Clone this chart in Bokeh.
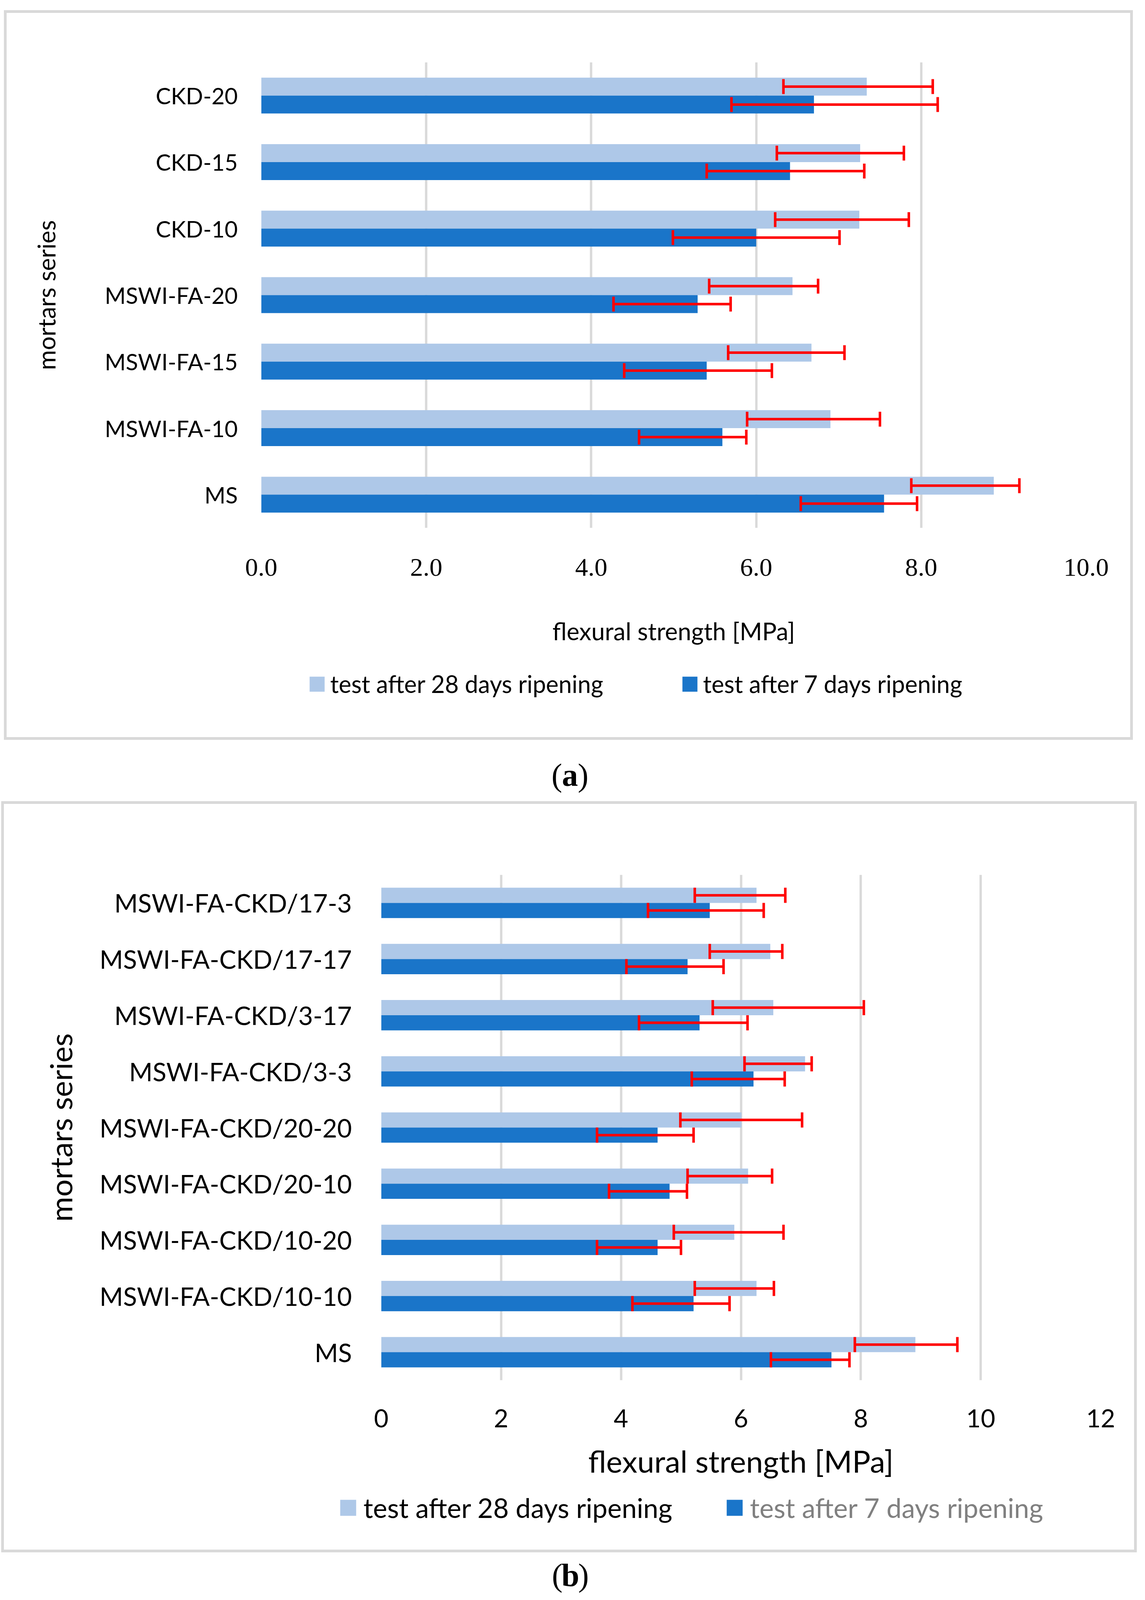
from bokeh.plotting import figure
from bokeh.models import (ColumnDataSource, Range1d, FactorRange, FixedTicker,
                          NumeralTickFormatter, Legend, LegendItem, Label)
from bokeh.layouts import column
from bokeh.transform import dodge
from bokeh.embed import file_html
from bokeh.resources import INLINE

# ---------------- data: panel (a) (bottom -> top) ----------------
cats_a = ["MS", "MSWI-FA-10", "MSWI-FA-15", "MSWI-FA-20", "CKD-10", "CKD-15", "CKD-20"]
a_28 = [8.88, 6.90, 6.67, 6.44, 7.25, 7.26, 7.34]
a_28_lo = [7.88, 5.89, 5.66, 5.43, 6.23, 6.25, 6.33]
a_28_hi = [9.19, 7.50, 7.07, 6.75, 7.85, 7.79, 8.14]
a_7 = [7.55, 5.59, 5.40, 5.29, 6.00, 6.41, 6.70]
a_7_lo = [6.54, 4.58, 4.40, 4.27, 4.99, 5.40, 5.70]
a_7_hi = [7.95, 5.88, 6.19, 5.69, 7.01, 7.31, 8.20]
ticks_a = [0, 2, 4, 6, 8, 10]

# ---------------- data: panel (b) (bottom -> top) ----------------
cats_b = ["MS", "MSWI-FA-CKD/10-10", "MSWI-FA-CKD/10-20", "MSWI-FA-CKD/20-10",
          "MSWI-FA-CKD/20-20", "MSWI-FA-CKD/3-3", "MSWI-FA-CKD/3-17",
          "MSWI-FA-CKD/17-17", "MSWI-FA-CKD/17-3"]
b_28 = [8.91, 6.26, 5.89, 6.12, 6.01, 7.07, 6.54, 6.49, 6.26]
b_28_lo = [7.90, 5.23, 4.88, 5.11, 4.99, 6.06, 5.53, 5.48, 5.23]
b_28_hi = [9.61, 6.55, 6.71, 6.52, 7.02, 7.18, 8.05, 6.69, 6.74]
b_7 = [7.51, 5.21, 4.61, 4.81, 4.61, 6.21, 5.31, 5.11, 5.48]
b_7_lo = [6.50, 4.19, 3.60, 3.80, 3.60, 5.18, 4.30, 4.09, 4.45]
b_7_hi = [7.81, 5.81, 5.00, 5.10, 5.21, 6.73, 6.11, 5.71, 6.38]
ticks_b = [0, 2, 4, 6, 8, 10, 12]

series_labels = ["test after 28 days ripening", "test after 7 days ripening"]
y_title = "mortars series"
x_title = "flexural strength [MPa]"

LIGHT = "#aec8e8"
DARK = "#1a75c9"
RED = "#ff0000"
GRID = "#d9d9d9"
SANS = "Lato"


def no_align(p):
    if "frame_align" in p.properties():
        p.frame_align = False


def make_source(cats, v28, lo28, hi28, v7, lo7, hi7):
    return ColumnDataSource(dict(cat=cats, v28=v28, lo28=lo28, hi28=hi28,
                                 v7=v7, lo7=lo7, hi7=hi7))


def chart(src, cats, ticks, fmt, W, H, bl, br, bt, bb,
          tick_font, tick_size, cat_size, ytitle_size, xtitle_size,
          x_stand, x_title_stand, y_stand, y_title_stand, cap):
    p = figure(width=W, height=H, title=None,
               y_range=FactorRange(factors=cats, range_padding=0),
               x_range=Range1d(ticks[0], ticks[-1]),
               output_backend="svg", toolbar_location=None,
               min_border_left=bl, min_border_right=br,
               min_border_top=bt, min_border_bottom=bb)
    no_align(p)
    p.outline_line_color = None
    p.background_fill_color = "white"
    p.border_fill_color = "white"
    p.ygrid.visible = False
    p.xgrid.grid_line_color = GRID
    p.xgrid.grid_line_width = 6

    for ax in (p.xaxis[0], p.yaxis[0]):
        ax.axis_line_color = None
        ax.major_tick_line_color = None
        ax.minor_tick_line_color = None
        ax.major_tick_out = 0
        ax.major_tick_in = 0
        ax.major_label_text_color = "#000000"
        ax.axis_label_text_color = "#000000"
        ax.axis_label_text_font_style = "normal"

    xa = p.xaxis[0]
    xa.ticker = FixedTicker(ticks=ticks)
    xa.formatter = NumeralTickFormatter(format=fmt)
    xa.major_label_text_font = tick_font
    xa.major_label_text_font_size = f"{tick_size}px"
    xa.major_label_standoff = x_stand
    xa.axis_label = x_title
    xa.axis_label_text_font = SANS
    xa.axis_label_text_font_size = f"{xtitle_size}px"
    xa.axis_label_standoff = x_title_stand

    ya = p.yaxis[0]
    ya.major_label_text_font = SANS
    ya.major_label_text_font_size = f"{cat_size}px"
    ya.major_label_standoff = y_stand
    ya.axis_label = y_title
    ya.axis_label_text_font = SANS
    ya.axis_label_text_font_size = f"{ytitle_size}px"
    ya.axis_label_standoff = y_title_stand

    off = 0.135
    p.hbar(y=dodge("cat", off, range=p.y_range), left=0, right="v28",
           height=0.27, fill_color=LIGHT, line_color=None, source=src)
    p.hbar(y=dodge("cat", -off, range=p.y_range), left=0, right="v7",
           height=0.27, fill_color=DARK, line_color=None, source=src)

    for o, lo, hi in ((off, "lo28", "hi28"), (-off, "lo7", "hi7")):
        yc = dodge("cat", o, range=p.y_range)
        p.segment(x0=lo, y0=yc, x1=hi, y1=yc, line_color=RED, line_width=6.5,
                  line_cap="butt", source=src)
        for col in (lo, hi):
            p.segment(x0=col, y0=dodge("cat", o - cap, range=p.y_range),
                      x1=col, y1=dodge("cat", o + cap, range=p.y_range),
                      line_color=RED, line_width=6.5, line_cap="butt", source=src)
    return p


def legend_fig(src, cats, W, H, glyph, size, x1, x2, yb, standoff, col2):
    # the same series, in a strip whose x range lies left of the data (bars stay out of view);
    # it only hosts the legend so that it can sit below the axis title
    lf = figure(width=W, height=H, title=None, x_range=Range1d(-2, -1),
                y_range=FactorRange(factors=cats, range_padding=0),
                x_axis_type=None, y_axis_type=None, output_backend="svg",
                toolbar_location=None, min_border=0)
    no_align(lf)
    lf.outline_line_color = None
    lf.grid.visible = False
    r28 = lf.hbar(y="cat", left=0, right="v28", height=0.27, fill_color=LIGHT,
                  line_color=None, source=src)
    r7 = lf.hbar(y="cat", left=0, right="v7", height=0.27, fill_color=DARK,
                 line_color=None, source=src)
    for r, lab, lx, col in ((r28, series_labels[0], x1, "#000000"),
                            (r7, series_labels[1], x2, col2)):
        leg = Legend(items=[LegendItem(label=lab, renderers=[r])],
                     location=(lx, yb), orientation="horizontal",
                     border_line_color=None, background_fill_alpha=0,
                     padding=0, margin=0, spacing=0,
                     glyph_width=glyph, glyph_height=glyph,
                     label_standoff=standoff, label_text_font=SANS,
                     label_text_font_size=f"{size}px", label_text_color=col)
        lf.add_layout(leg)
    return lf


def caption(W, H, letter, yc, xc):
    c = figure(width=W, height=H, title=None, x_range=Range1d(0, W), y_range=Range1d(0, H),
               x_axis_type=None, y_axis_type=None, output_backend="svg",
               toolbar_location=None, min_border=0)
    no_align(c)
    c.outline_line_color = None
    c.grid.visible = False
    fs = "82px"
    c.add_layout(Label(x=xc - 20, y=yc, text="(", text_align="right", text_baseline="middle",
                       text_font="Liberation Serif", text_font_size=fs, text_color="#000000"))
    c.add_layout(Label(x=xc, y=yc, text=letter, text_align="center", text_baseline="middle",
                       text_font="Liberation Serif", text_font_size=fs, text_font_style="bold",
                       text_color="#000000"))
    c.add_layout(Label(x=xc + 20, y=yc, text=")", text_align="left", text_baseline="middle",
                       text_font="Liberation Serif", text_font_size=fs, text_color="#000000"))
    return c


def boxed(children, margin):
    b = column(*children, spacing=0)
    b.margin = margin
    b.styles = {"box-shadow": "0 0 0 7px #d9d9d9", "background-color": "white"}
    return b


# panel (a): inner box 2875 x 1854 at page (25, 41)
src_a = make_source(cats_a, a_28, a_28_lo, a_28_hi, a_7, a_7_lo, a_7_hi)
pa = chart(src_a, cats_a, ticks_a, "0.0",
           2875, 1680, 651, 113, 126, 362,
           "Liberation Serif", 66, 58, 62, 62,
           79, 101, 60, 110, 0.112)
la = legend_fig(src_a, cats_a, 2875, 174, 48, 61, 770, 1724, 100, 10, "#000000")
box_a = boxed([pa, la], (33, 0, 7, 17))
ca = caption(2914, 157, "a", 67, 1458)

# panel (b): inner box 2892 x 1909 at page (18, 2066)
src_b = make_source(cats_b, b_28, b_28_lo, b_28_hi, b_7, b_7_lo, b_7_hi)
pb = chart(src_b, cats_b, ticks_b, "0",
           2892, 1760, 965, 86, 181, 285,
           SANS, 64, 65, 78, 78,
           74, 36, 75, 50, 0.135)
lb = legend_fig(src_b, cats_b, 2892, 149, 51, 69, 855, 1844, 66, 14, "#808080")
box_b = boxed([pb, lb], (7, 0, 7, 10))
cb = caption(2914, 170, "b", 112, 1459)

layout = column(box_a, ca, box_b, cb, spacing=0)
open("out.html", "w").write(file_html(layout, INLINE))
